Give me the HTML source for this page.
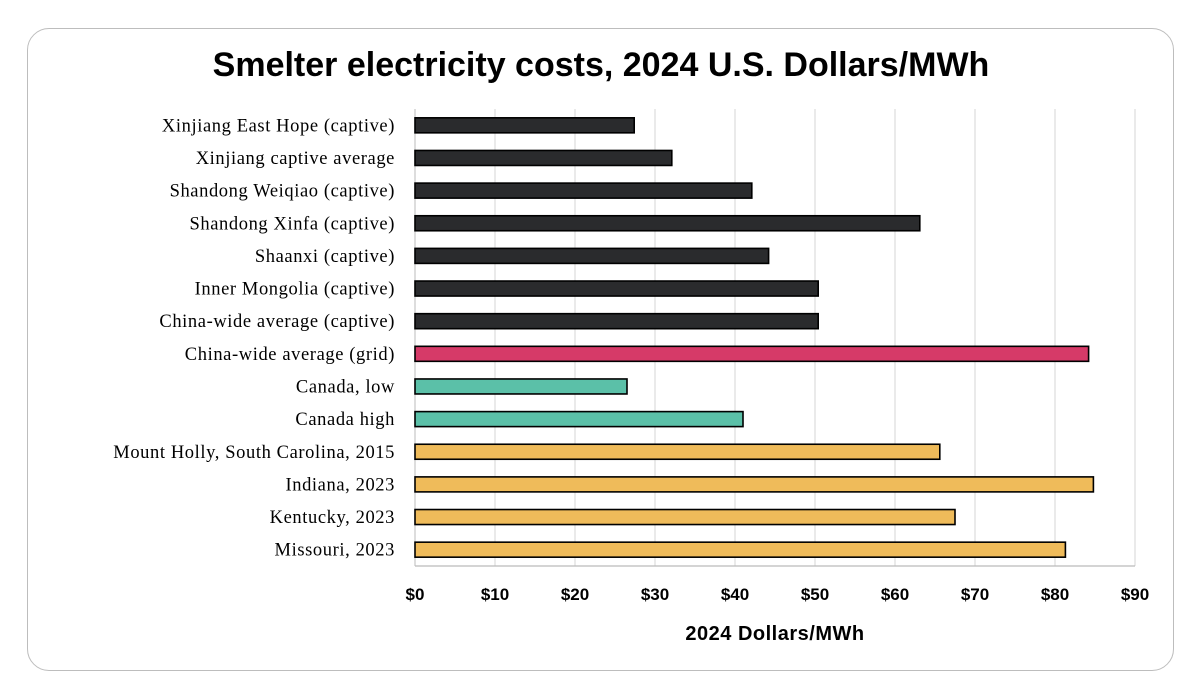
<!DOCTYPE html>
<html><head><meta charset="utf-8"><style>
body{margin:0;background:#fff;width:1200px;height:688px;overflow:hidden;font-family:"Liberation Sans",sans-serif}
.card{position:absolute;left:27px;top:28px;width:1147px;height:643px;border:1.5px solid #bdbdbd;border-radius:22px;box-sizing:border-box}
</style></head><body>
<div class="card"></div>
<svg id="chart" width="1200" height="688" style="position:absolute;left:0;top:0">
<text x="601" y="76" text-anchor="middle" font-family="Liberation Sans" font-weight="bold" font-size="34" fill="#000">Smelter electricity costs, 2024 U.S. Dollars/MWh</text>
<g id="grid"></g><g id="bars"></g><g id="labels"></g><g id="ticks"></g>
<text x="775" y="640" text-anchor="middle" font-family="Liberation Sans" font-weight="bold" font-size="20" letter-spacing="0.5" fill="#000">2024 Dollars/MWh</text>
</svg>
<script>
const categories=["Xinjiang East Hope (captive)","Xinjiang captive average","Shandong Weiqiao (captive)","Shandong Xinfa (captive)","Shaanxi (captive)","Inner Mongolia (captive)","China-wide average (captive)","China-wide average (grid)","Canada, low","Canada high","Mount Holly, South Carolina, 2015","Indiana, 2023","Kentucky, 2023","Missouri, 2023"];
const values=[27.4,32.1,42.1,63.1,44.2,50.4,50.4,84.2,26.5,41.0,65.6,84.8,67.5,81.3];
const groups=["china","china","china","china","china","china","china","grid","canada","canada","us","us","us","us"];
const tickValues=[0,10,20,30,40,50,60,70,80,90];
const tickLabels=["$0","$10","$20","$30","$40","$50","$60","$70","$80","$90"];
const colors={china:"#2a2b2d",grid:"#d63a68",canada:"#5bc0a8",us:"#efbb5a"};
const NS="http://www.w3.org/2000/svg";
const x0=415,x1=1135,yTop=109,yBot=566,maxV=90;
const xs=v=>x0+(v/maxV)*(x1-x0);
const band=(yBot-yTop)/categories.length;
const ys=i=>yTop+band*(i+0.5);
function mk(t,a,p){const e=document.createElementNS(NS,t);for(const k in a)e.setAttribute(k,a[k]);p.appendChild(e);return e;}
const G=document.getElementById('grid'),B=document.getElementById('bars'),L=document.getElementById('labels'),T=document.getElementById('ticks');
tickValues.forEach((v,i)=>{
 const ln=mk('line',{x1:xs(v),x2:xs(v),y1:yTop,y2:yBot,stroke:v===0?'#bbb':'#d4d4d4','stroke-width':1},G);
 
 
 const t=mk('text',{x:xs(v),y:600,'text-anchor':'middle','font-family':'Liberation Sans','font-weight':'bold','font-size':17,fill:'#000'},T);
 t.textContent=tickLabels[i];
 
 
});
const ax=mk('line',{x1:x0,x2:x1,y1:yBot,y2:yBot,stroke:'#bbb','stroke-width':1.2},G);


categories.forEach((c,i)=>{
 const y=ys(i),h=15;
 const r=mk('rect',{x:x0,y:y-h/2,width:xs(values[i])-x0,height:h,fill:colors[groups[i]],stroke:'#000','stroke-width':1.6},B);
 
 
 const t=mk('text',{x:395,y:y+6,'text-anchor':'end','font-family':'Liberation Serif','font-size':18.5,'letter-spacing':0.6,fill:'#000'},L);
 t.textContent=c;
 
 
});
</script>
</body></html>
